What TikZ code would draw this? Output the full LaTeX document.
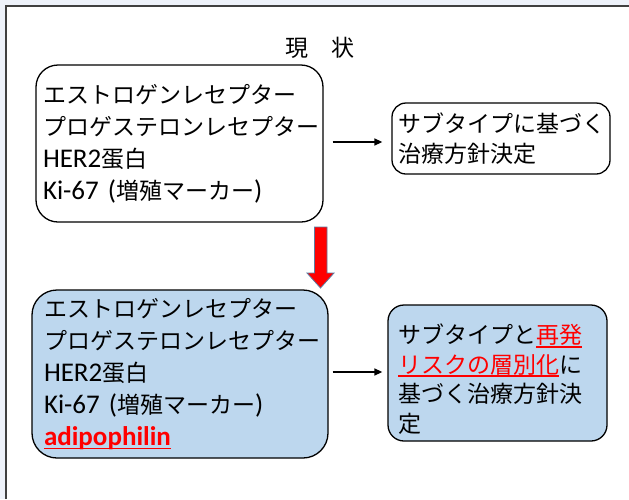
\documentclass[tikz,border=0pt]{standalone}
\usepackage{fontspec}
\setmainfont{Carlito}
\newfontfamily\cjk[Scale=0.852]{Noto Sans CJK JP}
\usetikzlibrary{arrows.meta}
\definecolor{boxblue}{HTML}{BDD7EE}
\definecolor{slidebg}{HTML}{EEF2FA}
\definecolor{framecol}{HTML}{404040}
\definecolor{arrowedge}{HTML}{5B7BA0}
\newcommand{\ulx}[1]{\setbox0\hbox{#1}\rlap{\rule[-4pt]{\wd0}{1.8pt}}\box0}
\newcommand{\rl}[1]{\textcolor{red}{\ulx{#1}}}
\begin{document}
\begin{tikzpicture}[x=1pt,y=-1pt,
  box/.style={draw=black, line width=1.3pt, align=left, inner ysep=0pt, anchor=center},
  bigtxt/.style={font=\fontsize{27}{32}\selectfont},
  smalltxt/.style={font=\fontsize{27}{29.5}\selectfont},
  arr/.style={line width=1.5pt, -{Triangle[length=8pt,width=7pt]}}]
\useasboundingbox (0,0) rectangle (629,499);
\fill[slidebg] (0,0) rectangle (629,499);
\fill[white] (6,6) rectangle (629,499);
\draw[framecol, line width=1.2pt] (6,499) -- (6,6) -- (629,6);

\node[font=\cjk\fontsize{27}{30}\selectfont] (title) at (320,48) {現　状};

\node[box, bigtxt, rounded corners=22pt, inner xsep=7pt, text width=273pt, minimum height=157pt]
  (b1) at (179.5,143.5)
  {{\cjk エストロゲンレセプター}\\
   {\cjk プロゲステロンレセプター}\\
   HER2{\cjk 蛋白}\\
   Ki-67 ({\cjk 増殖マーカー})};

\node[box, smalltxt, rounded corners=14pt, inner xsep=6pt, text width=206pt, minimum height=71pt]
  (b2) at (501,138.5)
  {{\cjk サブタイプに基づく}\\
   {\cjk 治療方針決定}};

\node[box, bigtxt, fill=boxblue, rounded corners=25pt, inner xsep=12pt, text width=272pt, minimum height=168pt]
  (b3) at (180,374)
  {{\cjk エストロゲンレセプター}\\
   {\cjk プロゲステロンレセプター}\\
   HER2{\cjk 蛋白}\\
   Ki-67 ({\cjk 増殖マーカー})\\
   \rl{\textbf{adipophilin}}};

\node[box, smalltxt, fill=boxblue, rounded corners=16pt, inner xsep=10pt, text width=199pt, minimum height=136pt]
  (b4) at (497.5,373)
  {\rule{0pt}{32pt}{\cjk サブタイプと\rl{再発}}\\
   {\cjk \rl{リスクの層別化}に}\\
   {\cjk 基づく治療方針決}\\
   {\cjk 定}};

\draw[arr, shorten <=9pt, shorten >=9pt] (b1.east |- 0,142) -- (b2.west |- 0,142);
\draw[arr, shorten <=4pt, shorten >=5pt] (b3.east |- 0,372) -- (b4.west |- 0,372);

\filldraw[fill=red, draw=arrowedge, line width=0.8pt]
  (314.5,227) -- (327,227) -- (327,273) -- (334,273) -- (320.5,288)
  -- (307,273) -- (314.5,273) -- cycle;
\end{tikzpicture}
\end{document}
